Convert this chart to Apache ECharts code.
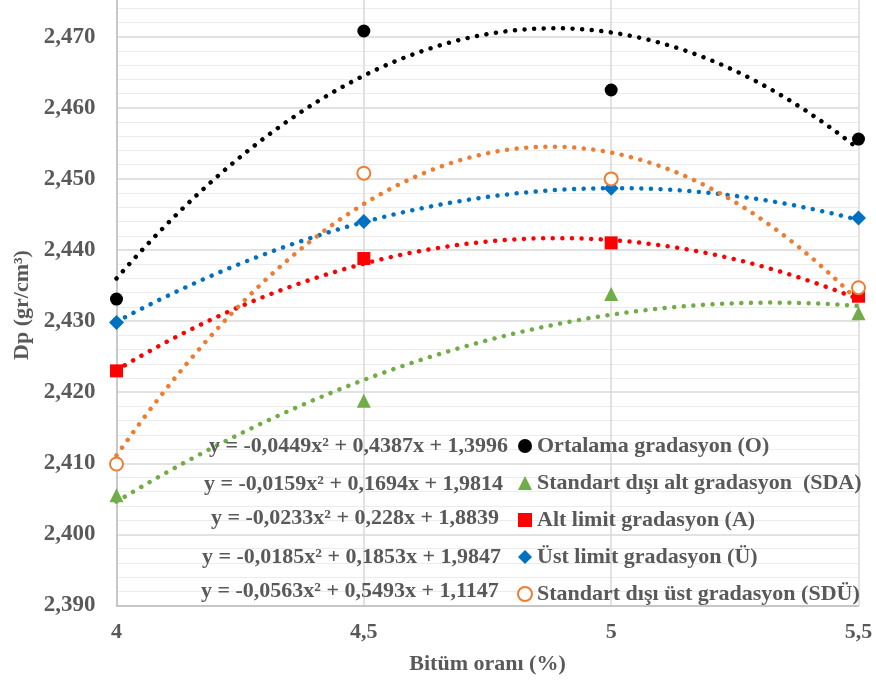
<!DOCTYPE html>
<html>
<head>
<meta charset="utf-8">
<script src="https://cdn.jsdelivr.net/npm/echarts@6/dist/echarts.min.js"></script>
<style>
  html, body { margin: 0; padding: 0; background: #fff; }
  #chart { width: 876px; height: 689px; }
</style>
</head>
<body>
<div id="chart"></div>
<script>
// Bitumen content (%) on the x axis
const bitumen = [4, 4.5, 5, 5.5];

// Measured Dp (gr/cm3) per gradation
const ortalama = [2.4331, 2.4708, 2.4625, 2.4556];
const sda      = [2.4055, 2.4188, 2.4338, 2.4311];
const altLimit = [2.4230, 2.4388, 2.4410, 2.4335];
const ustLimit = [2.4298, 2.4440, 2.4487, 2.4445];
const sdu      = [2.4099, 2.4508, 2.4500, 2.4347];

// Polynomial (order 2) trend coefficients [a, b, c] for y = a x² + b x + c
const trendO   = [-0.0449, 0.4387, 1.3996];
const trendSDA = [-0.0159, 0.1694, 1.9814];
const trendA   = [-0.0233, 0.228, 1.8839];
const trendU   = [-0.0185, 0.1853, 1.9847];
const trendSDU = [-0.0563, 0.5493, 1.1147];

const names = [
  'Ortalama gradasyon (O)',
  'Standart dışı alt gradasyon  (SDA)',
  'Alt limit gradasyon (A)',
  'Üst limit gradasyon (Ü)',
  'Standart dışı üst gradasyon (SDÜ)'
];
const colors = ['#000000', '#70AD47', '#FF0000', '#0070C0', '#ED7D31'];
const symbols = ['circle', 'triangle', 'rect', 'diamond', 'emptyCircle'];
const symbolSizes = [13, 14, 13, 15, 13];
const measured = [ortalama, sda, altLimit, ustLimit, sdu];
const trends = [trendO, trendSDA, trendA, trendU, trendSDU];

const FONT = '"Liberation Serif", "Times New Roman", serif';
const GREY_TEXT = '#595959';

function comma(v, d) {
  return (d == null ? String(v) : v.toFixed(d)).replace('.', ',');
}

function equationText(c) {
  return 'y = ' + comma(c[0]) + 'x² + ' + comma(c[1]) + 'x + ' + comma(c[2]);
}

// Sample a trend curve across the x range of the data
function trendCurve(c) {
  const pts = [];
  const x0 = bitumen[0], x1 = bitumen[bitumen.length - 1];
  const steps = 150;
  for (let i = 0; i <= steps; i++) {
    const x = x0 + (x1 - x0) * i / steps;
    pts.push([x, c[0] * x * x + c[1] * x + c[2]]);
  }
  return pts;
}

const series = [];
trends.forEach((c, i) => {
  series.push({
    type: 'line',
    name: names[i] + ' trend',
    data: trendCurve(c),
    showSymbol: false,
    silent: true,
    z: 2,
    lineStyle: { color: colors[i], width: 4.5, type: [0.01, 9.6], cap: 'round' }
  });
});
measured.forEach((vals, i) => {
  series.push({
    type: 'scatter',
    name: names[i],
    data: bitumen.map((x, k) => [x, vals[k]]),
    symbol: symbols[i],
    symbolSize: symbolSizes[i],
    z: 5,
    itemStyle: symbols[i] === 'emptyCircle'
      ? { color: colors[i], borderColor: colors[i], borderWidth: 3, opacity: 1 }
      : { color: colors[i], opacity: 1 }
  });
});

// Trend equations, one per legend row
const eqLeft = [209, 204, 211, 202, 201];
const eqY = [446, 484, 518, 557, 591];
const graphics = trends.map((c, i) => ({
  type: 'text',
  left: eqLeft[i],
  top: eqY[i] - 11,
  z: 10,
  style: {
    text: equationText(c),
    font: 'bold 22px ' + FONT,
    fill: GREY_TEXT
  }
}));
graphics.push({
  type: 'text',
  x: 22,
  y: 305,
  rotation: Math.PI / 2,
  z: 10,
  style: {
    text: 'Dp (gr/cm³)',
    font: 'bold 22px ' + FONT,
    fill: GREY_TEXT,
    align: 'center',
    verticalAlign: 'middle'
  }
});

const chart = echarts.init(document.getElementById('chart'));
chart.setOption({
  animation: false,
  backgroundColor: '#ffffff',
  grid: { left: 116.5, right: 17.5, top: -34.4, bottom: 83.5, outerBoundsMode: 'none', containLabel: false },
  xAxis: {
    type: 'value',
    min: 4,
    max: 5.5,
    interval: 0.5,
    name: 'Bitüm oranı (%)',
    nameLocation: 'middle',
    nameGap: 48,
    nameTextStyle: { fontFamily: FONT, fontWeight: 'bold', fontSize: 22, color: GREY_TEXT },
    axisLine: { show: true, lineStyle: { color: '#BFBFBF', width: 1.5 } },
    axisTick: { show: false },
    axisLabel: {
      margin: 16,
      fontFamily: FONT, fontWeight: 'bold', fontSize: 22, color: GREY_TEXT,
      formatter: v => comma(v)
    },
    splitLine: { show: true, lineStyle: { color: '#D9D9D9', width: 1.5 } }
  },
  yAxis: {
    type: 'value',
    min: 2.39,
    max: 2.48,
    interval: 0.01,
    axisLine: { show: true, lineStyle: { color: '#BFBFBF', width: 1.5 } },
    axisTick: { show: false },
    axisLabel: {
      margin: 21,
      fontFamily: FONT, fontWeight: 'bold', fontSize: 23, color: GREY_TEXT,
      formatter: v => comma(v, 3)
    },
    splitLine: { show: true, lineStyle: { color: '#D9D9D9', width: 1.5 } },
    minorTick: { show: false, splitNumber: 5 },
    minorSplitLine: { show: true, lineStyle: { color: '#ECECEC', width: 1.2 } }
  },
  legend: {
    orient: 'vertical',
    left: 517,
    top: 435,
    padding: 0,
    itemGap: 15,
    itemWidth: 14,
    itemHeight: 14,
    data: names,
    textStyle: {
      fontFamily: FONT, fontWeight: 'bold', fontSize: 22, lineHeight: 22, color: GREY_TEXT
    },
    selectedMode: false
  },
  graphic: graphics,
  series: series
});
</script>
</body>
</html>
